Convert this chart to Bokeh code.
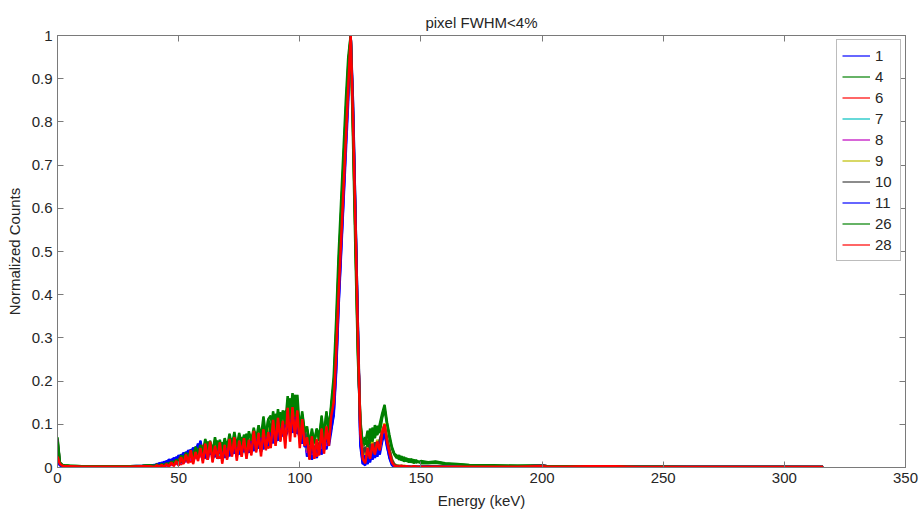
from bokeh.plotting import figure
from bokeh.models import LinearAxis, FixedTicker, CustomJSTickFormatter, Range1d
from bokeh.embed import file_html
from bokeh.resources import INLINE

# ---------------- data ----------------
energy_kev = [0, 1, 2, 3, 5, 10, 15, 20, 25, 30, 35, 38,
    40, 41, 42, 43, 44, 45, 46, 47, 48, 49,
    50, 51, 52, 53, 54, 55, 56, 57, 58, 59,
    60, 61, 62, 63, 64, 65, 66, 67, 68, 69,
    70, 71, 72, 73, 74, 75, 76, 77, 78, 79,
    80, 81, 82, 83, 84, 85, 86, 87, 88, 89,
    90, 91, 92, 93, 94, 95, 96, 97, 98, 99,
    100, 101, 102, 103, 104, 105, 106, 107, 108, 109,
    110, 111, 112, 113, 114, 115, 116, 117, 118, 119,
    120, 121, 122, 123, 124, 125, 126, 127, 128, 129,
    130, 131, 132, 133, 134, 135, 136, 137, 138, 139,
    140, 141, 142, 143, 144, 145, 146, 147, 148, 149,
    150,
    153, 156, 160, 165, 170, 180, 190, 200, 202, 210, 220, 230, 235, 240, 250, 260, 280, 300, 316]

pixel_1 = [0.02, 0.006, 0.004, 0.003, 0.003, 0.002, 0.002, 0.002, 0.002, 0.003, 0.004, 0.005,
    0.004, 0.008, 0.006, 0.011, 0.009, 0.015, 0.010, 0.019, 0.014, 0.024,
    0.018, 0.030, 0.022, 0.036, 0.026, 0.042, 0.030, 0.048, 0.036, 0.062,
    0.030, 0.050, 0.018, 0.046, 0.025, 0.052, 0.020, 0.044, 0.028, 0.050,
    0.022, 0.048, 0.030, 0.055, 0.026, 0.050, 0.032, 0.056, 0.028, 0.052,
    0.035, 0.066, 0.040, 0.072, 0.036, 0.062, 0.045, 0.074, 0.052, 0.090,
    0.055, 0.085, 0.065, 0.100, 0.070, 0.085, 0.120, 0.080, 0.112, 0.078,
    0.095, 0.055, 0.075, 0.025, 0.050, 0.018, 0.045, 0.022, 0.048, 0.030,
    0.070, 0.042, 0.080, 0.09, 0.12, 0.22, 0.37, 0.49, 0.61, 0.73,
    0.85, 1.0, 0.84, 0.58, 0.32, 0.06, 0.010, 0.005, 0.030, 0.012,
    0.040, 0.022, 0.048, 0.030, 0.060, 0.082, 0.048, 0.025, 0.008, 0.003,
    0.002, 0.003, 0.001, 0.002, 0.002, 0.001, 0.002, 0.001, 0.002, 0.001,
    0.001,
    0.002, 0.002, 0.001, 0.002, 0.001, 0.002, 0.002, 0.004, 0.003, 0.002, 0.002, 0.002, 0.001, 0.001, 0.001, 0.001, 0.001, 0.001, 0.001]

pixel_4 = [0.07, 0.010, 0.005, 0.004, 0.004, 0.003, 0.003, 0.003, 0.002, 0.003, 0.003, 0.004,
    0.005, 0.003, 0.007, 0.004, 0.008, 0.006, 0.011, 0.008, 0.015, 0.010,
    0.024, 0.014, 0.030, 0.020, 0.036, 0.028, 0.044, 0.032, 0.050, 0.036,
    0.050, 0.025, 0.060, 0.032, 0.052, 0.028, 0.062, 0.036, 0.058, 0.040,
    0.060, 0.038, 0.068, 0.042, 0.064, 0.045, 0.070, 0.055, 0.078, 0.042,
    0.060, 0.085, 0.050, 0.078, 0.066, 0.095, 0.070, 0.112, 0.120, 0.082,
    0.124, 0.092, 0.128, 0.104, 0.130, 0.132, 0.160, 0.130, 0.168, 0.128,
    0.100, 0.122, 0.085, 0.088, 0.058, 0.080, 0.062, 0.090, 0.072, 0.110,
    0.078, 0.125, 0.095, 0.14, 0.19, 0.31, 0.46, 0.58, 0.70, 0.82,
    0.93, 1.0, 0.79, 0.53, 0.27, 0.11, 0.05, 0.055, 0.085, 0.050,
    0.092, 0.068, 0.096, 0.080, 0.115, 0.135, 0.100, 0.068, 0.044, 0.030,
    0.022, 0.028, 0.016, 0.024, 0.014, 0.020, 0.012, 0.018, 0.011, 0.014,
    0.010,
    0.010, 0.011, 0.008, 0.007, 0.005, 0.004, 0.004, 0.005, 0.003, 0.003, 0.003, 0.002, 0.003, 0.002, 0.002, 0.001, 0.001, 0.001, 0.001]

pixel_6 = [0.03, 0.009, 0.005, 0.004, 0.003, 0.003, 0.002, 0.002, 0.002, 0.003, 0.003, 0.004,
    0.003, 0.001, 0.006, 0.002, 0.004, 0.009, 0.004, 0.012, 0.007, 0.015,
    0.020, 0.006, 0.025, 0.015, 0.030, 0.012, 0.040, 0.020, 0.045, 0.025,
    0.052, 0.020, 0.038, 0.055, 0.018, 0.035, 0.055, 0.020, 0.046, 0.030,
    0.058, 0.028, 0.048, 0.060, 0.033, 0.055, 0.025, 0.060, 0.038, 0.058,
    0.040, 0.072, 0.050, 0.078, 0.038, 0.066, 0.082, 0.044, 0.062, 0.104,
    0.060, 0.098, 0.080, 0.110, 0.058, 0.112, 0.138, 0.086, 0.120, 0.095,
    0.070, 0.100, 0.058, 0.062, 0.028, 0.045, 0.068, 0.025, 0.060, 0.082,
    0.040, 0.090, 0.065, 0.10, 0.16, 0.28, 0.42, 0.54, 0.66, 0.78,
    0.90, 1.0, 0.78, 0.53, 0.28, 0.10, 0.03, 0.040, 0.015, 0.052,
    0.025, 0.058, 0.035, 0.062, 0.085, 0.098, 0.066, 0.040, 0.015, 0.005,
    0.002, 0.004, 0.003, 0.002, 0.003, 0.001, 0.002, 0.003, 0.002, 0.002,
    0.001,
    0.003, 0.002, 0.002, 0.002, 0.002, 0.002, 0.003, 0.002, 0.003, 0.002, 0.002, 0.003, 0.003, 0.002, 0.002, 0.001, 0.001, 0.001, 0.001]

pixel_7 = [0.025, 0.007, 0.004, 0.003, 0.003, 0.002, 0.002, 0.002, 0.002, 0.002, 0.003, 0.003,
    0.002, 0.004, 0.003, 0.005, 0.004, 0.005, 0.008, 0.006, 0.011, 0.009,
    0.016, 0.010, 0.022, 0.014, 0.026, 0.020, 0.034, 0.024, 0.040, 0.028,
    0.044, 0.026, 0.048, 0.030, 0.050, 0.032, 0.052, 0.028, 0.050, 0.034,
    0.054, 0.030, 0.056, 0.036, 0.058, 0.038, 0.060, 0.035, 0.058, 0.042,
    0.068, 0.042, 0.072, 0.048, 0.076, 0.050, 0.080, 0.056, 0.094, 0.060,
    0.100, 0.070, 0.104, 0.078, 0.112, 0.096, 0.128, 0.100, 0.132, 0.092,
    0.080, 0.104, 0.062, 0.068, 0.032, 0.060, 0.036, 0.064, 0.042, 0.074,
    0.048, 0.082, 0.060, 0.11, 0.14, 0.25, 0.40, 0.52, 0.64, 0.76,
    0.88, 1.0, 0.80, 0.55, 0.29, 0.08, 0.028, 0.022, 0.050, 0.030,
    0.056, 0.036, 0.060, 0.042, 0.076, 0.094, 0.064, 0.038, 0.016, 0.006,
    0.004, 0.003, 0.004, 0.002, 0.003, 0.002, 0.002, 0.002, 0.001, 0.002,
    0.002,
    0.002, 0.002, 0.002, 0.002, 0.001, 0.002, 0.002, 0.003, 0.002, 0.002, 0.002, 0.002, 0.002, 0.001, 0.001, 0.001, 0.001, 0.001, 0.001]

pixel_8 = [0.02, 0.006, 0.004, 0.003, 0.002, 0.002, 0.002, 0.002, 0.002, 0.002, 0.003, 0.003,
    0.003, 0.002, 0.004, 0.003, 0.005, 0.004, 0.007, 0.006, 0.010, 0.008,
    0.013, 0.010, 0.018, 0.013, 0.022, 0.017, 0.030, 0.021, 0.036, 0.025,
    0.030, 0.046, 0.022, 0.050, 0.028, 0.052, 0.026, 0.048, 0.030, 0.054,
    0.034, 0.056, 0.030, 0.058, 0.036, 0.060, 0.034, 0.062, 0.040, 0.064,
    0.044, 0.070, 0.046, 0.076, 0.052, 0.080, 0.054, 0.086, 0.058, 0.096,
    0.064, 0.102, 0.074, 0.108, 0.080, 0.126, 0.094, 0.130, 0.098, 0.120,
    0.098, 0.070, 0.090, 0.034, 0.062, 0.030, 0.066, 0.038, 0.070, 0.044,
    0.078, 0.050, 0.084, 0.105, 0.13, 0.24, 0.39, 0.51, 0.63, 0.75,
    0.87, 1.0, 0.81, 0.56, 0.30, 0.07, 0.022, 0.040, 0.018, 0.048,
    0.026, 0.054, 0.032, 0.058, 0.072, 0.090, 0.060, 0.034, 0.014, 0.005,
    0.003, 0.002, 0.003, 0.002, 0.002, 0.003, 0.001, 0.002, 0.002, 0.001,
    0.001,
    0.002, 0.002, 0.001, 0.002, 0.002, 0.001, 0.002, 0.005, 0.003, 0.002, 0.002, 0.003, 0.002, 0.001, 0.001, 0.001, 0.001, 0.001, 0.001]

pixel_9 = [0.03, 0.008, 0.005, 0.004, 0.003, 0.003, 0.002, 0.002, 0.002, 0.003, 0.003, 0.004,
    0.003, 0.005, 0.004, 0.006, 0.005, 0.008, 0.006, 0.011, 0.008, 0.014,
    0.012, 0.020, 0.015, 0.026, 0.019, 0.032, 0.022, 0.040, 0.028, 0.044,
    0.028, 0.050, 0.030, 0.052, 0.034, 0.054, 0.030, 0.056, 0.036, 0.052,
    0.032, 0.058, 0.038, 0.060, 0.035, 0.062, 0.040, 0.064, 0.044, 0.066,
    0.048, 0.074, 0.052, 0.080, 0.056, 0.084, 0.060, 0.090, 0.066, 0.100,
    0.072, 0.106, 0.082, 0.114, 0.088, 0.132, 0.100, 0.136, 0.104, 0.126,
    0.102, 0.076, 0.096, 0.040, 0.068, 0.036, 0.070, 0.044, 0.076, 0.050,
    0.084, 0.058, 0.092, 0.12, 0.16, 0.28, 0.43, 0.55, 0.67, 0.79,
    0.90, 1.0, 0.78, 0.53, 0.28, 0.09, 0.035, 0.030, 0.056, 0.036,
    0.060, 0.042, 0.064, 0.048, 0.082, 0.102, 0.070, 0.044, 0.020, 0.008,
    0.005, 0.004, 0.003, 0.004, 0.003, 0.002, 0.003, 0.002, 0.002, 0.002,
    0.001,
    0.003, 0.002, 0.002, 0.002, 0.002, 0.002, 0.002, 0.003, 0.002, 0.002, 0.002, 0.002, 0.002, 0.001, 0.001, 0.001, 0.001, 0.001, 0.001]

pixel_10 = [0.065, 0.010, 0.005, 0.004, 0.003, 0.003, 0.002, 0.002, 0.002, 0.002, 0.003, 0.004,
    0.003, 0.004, 0.005, 0.004, 0.006, 0.007, 0.006, 0.010, 0.009, 0.012,
    0.015, 0.012, 0.020, 0.016, 0.024, 0.028, 0.020, 0.034, 0.026, 0.040,
    0.026, 0.046, 0.032, 0.050, 0.026, 0.048, 0.036, 0.054, 0.028, 0.050,
    0.038, 0.056, 0.032, 0.060, 0.040, 0.034, 0.062, 0.042, 0.064, 0.038,
    0.072, 0.046, 0.078, 0.050, 0.070, 0.058, 0.088, 0.062, 0.098, 0.068,
    0.110, 0.074, 0.104, 0.086, 0.116, 0.092, 0.134, 0.098, 0.126, 0.088,
    0.106, 0.066, 0.088, 0.060, 0.034, 0.064, 0.032, 0.060, 0.046, 0.080,
    0.052, 0.086, 0.066, 0.11, 0.14, 0.25, 0.41, 0.53, 0.65, 0.77,
    0.89, 1.0, 0.83, 0.58, 0.32, 0.09, 0.030, 0.048, 0.024, 0.054,
    0.032, 0.058, 0.040, 0.064, 0.080, 0.096, 0.068, 0.042, 0.018, 0.007,
    0.004, 0.003, 0.002, 0.003, 0.002, 0.002, 0.001, 0.002, 0.002, 0.001,
    0.002,
    0.003, 0.003, 0.002, 0.002, 0.002, 0.002, 0.002, 0.004, 0.003, 0.002, 0.002, 0.002, 0.002, 0.002, 0.002, 0.002, 0.002, 0.002, 0.001]

pixel_11 = [0.015, 0.005, 0.003, 0.003, 0.002, 0.002, 0.002, 0.002, 0.002, 0.002, 0.003, 0.004,
    0.006, 0.005, 0.010, 0.008, 0.013, 0.012, 0.018, 0.015, 0.022, 0.019,
    0.028, 0.023, 0.034, 0.029, 0.040, 0.032, 0.046, 0.038, 0.055, 0.040,
    0.046, 0.022, 0.052, 0.030, 0.048, 0.024, 0.050, 0.032, 0.054, 0.022,
    0.050, 0.026, 0.052, 0.032, 0.058, 0.030, 0.054, 0.036, 0.060, 0.034,
    0.062, 0.038, 0.068, 0.044, 0.074, 0.042, 0.070, 0.050, 0.088, 0.056,
    0.092, 0.062, 0.098, 0.072, 0.106, 0.088, 0.118, 0.086, 0.124, 0.090,
    0.068, 0.094, 0.048, 0.052, 0.020, 0.048, 0.028, 0.055, 0.032, 0.068,
    0.040, 0.075, 0.050, 0.085, 0.13, 0.23, 0.38, 0.50, 0.62, 0.75,
    0.87, 1.0, 0.81, 0.57, 0.31, 0.05, 0.008, 0.028, 0.008, 0.038,
    0.018, 0.045, 0.025, 0.052, 0.068, 0.078, 0.052, 0.022, 0.006, 0.002,
    0.003, 0.002, 0.002, 0.001, 0.002, 0.002, 0.001, 0.002, 0.001, 0.001,
    0.002,
    0.002, 0.001, 0.002, 0.001, 0.002, 0.001, 0.002, 0.003, 0.002, 0.001, 0.002, 0.001, 0.001, 0.001, 0.001, 0.001, 0.001, 0.001, 0.001]

pixel_26 = [0.06, 0.012, 0.006, 0.005, 0.004, 0.003, 0.003, 0.003, 0.003, 0.003, 0.004, 0.005,
    0.004, 0.007, 0.003, 0.008, 0.005, 0.010, 0.006, 0.014, 0.009, 0.018,
    0.012, 0.028, 0.018, 0.034, 0.022, 0.040, 0.025, 0.048, 0.030, 0.052,
    0.036, 0.066, 0.040, 0.062, 0.035, 0.070, 0.042, 0.064, 0.038, 0.068,
    0.046, 0.078, 0.050, 0.082, 0.048, 0.080, 0.052, 0.076, 0.047, 0.084,
    0.062, 0.092, 0.066, 0.098, 0.070, 0.118, 0.072, 0.112, 0.082, 0.130,
    0.088, 0.135, 0.092, 0.132, 0.100, 0.165, 0.112, 0.172, 0.118, 0.168,
    0.085, 0.130, 0.082, 0.095, 0.052, 0.090, 0.056, 0.088, 0.062, 0.120,
    0.070, 0.130, 0.078, 0.15, 0.21, 0.34, 0.49, 0.61, 0.73, 0.85,
    0.95, 1.0, 0.75, 0.49, 0.25, 0.10, 0.055, 0.070, 0.048, 0.090,
    0.060, 0.098, 0.075, 0.100, 0.125, 0.145, 0.105, 0.075, 0.048, 0.032,
    0.028, 0.018, 0.026, 0.014, 0.022, 0.012, 0.020, 0.010, 0.017, 0.012,
    0.015,
    0.012, 0.014, 0.010, 0.008, 0.006, 0.005, 0.004, 0.004, 0.003, 0.003, 0.003, 0.003, 0.002, 0.002, 0.002, 0.001, 0.001, 0.001, 0.001]

pixel_28 = [0.025, 0.008, 0.004, 0.003, 0.003, 0.002, 0.002, 0.002, 0.002, 0.002, 0.003, 0.003,
    0.001, 0.005, 0.002, 0.006, 0.001, 0.008, 0.002, 0.012, 0.003, 0.015,
    0.004, 0.024, 0.008, 0.030, 0.010, 0.040, 0.008, 0.036, 0.015, 0.045,
    0.010, 0.055, 0.018, 0.060, 0.012, 0.050, 0.020, 0.058, 0.009, 0.052,
    0.018, 0.066, 0.025, 0.070, 0.016, 0.062, 0.030, 0.068, 0.020, 0.064,
    0.028, 0.085, 0.035, 0.080, 0.026, 0.088, 0.040, 0.082, 0.045, 0.110,
    0.050, 0.115, 0.060, 0.108, 0.044, 0.138, 0.060, 0.140, 0.070, 0.132,
    0.045, 0.112, 0.050, 0.070, 0.018, 0.072, 0.020, 0.065, 0.028, 0.090,
    0.032, 0.095, 0.050, 0.12, 0.15, 0.26, 0.40, 0.52, 0.64, 0.76,
    0.88, 1.0, 0.80, 0.56, 0.30, 0.08, 0.02, 0.010, 0.045, 0.020,
    0.055, 0.030, 0.060, 0.040, 0.080, 0.100, 0.060, 0.035, 0.012, 0.004,
    0.003, 0.002, 0.004, 0.002, 0.003, 0.002, 0.001, 0.003, 0.002, 0.001,
    0.002,
    0.002, 0.002, 0.002, 0.002, 0.002, 0.002, 0.002, 0.003, 0.002, 0.002, 0.003, 0.003, 0.002, 0.001, 0.001, 0.001, 0.001, 0.001, 0.001]

pixel_labels = ["1", "4", "6", "7", "8", "9", "10", "11", "26", "28"]
pixel_series = [pixel_1, pixel_4, pixel_6, pixel_7, pixel_8, pixel_9,
                pixel_10, pixel_11, pixel_26, pixel_28]
pixel_colors = ["#0000ff", "#008000", "#ff0000", "#00bfbf", "#bf00bf", "#bfbf00",
                "#404040", "#0000ff", "#008000", "#ff0000"]

x_ticks = [0, 50, 100, 150, 200, 250, 300, 350]
y_ticks = [0, 0.1, 0.2, 0.3, 0.4, 0.5, 0.6, 0.7, 0.8, 0.9, 1]

for lbl, s in zip(pixel_labels, pixel_series):
    assert len(s) == len(energy_kev), (lbl, len(s), len(energy_kev))

# ---------------- figure ----------------
FONT = "Liberation Sans"
TXT = "#262626"
AX = "#7a7a7a"

p = figure(width=920, height=511, output_backend="svg", toolbar_location=None,
           x_range=Range1d(0, 350), y_range=Range1d(0, 1),
           min_border_left=57, min_border_right=15, min_border_top=35, min_border_bottom=43)
p.background_fill_color = "white"
p.border_fill_color = "white"
p.grid.visible = False
p.outline_line_color = AX
p.outline_line_width = 1

p.title.text = "pixel FWHM<4%"
p.title.align = "center"
p.title.text_font = FONT
p.title.text_font_size = "15px"
p.title.text_font_style = "normal"
p.title.text_color = TXT
p.title.offset = 2

fmt = CustomJSTickFormatter(code="return Number(tick.toFixed(2)).toString();")

for ax in p.xaxis:
    ax.ticker = FixedTicker(ticks=x_ticks)
    ax.axis_label = "Energy (keV)"
for ax in p.yaxis:
    ax.ticker = FixedTicker(ticks=y_ticks)
    ax.formatter = fmt
    ax.axis_label = "Normalized Counts"

top_axis = LinearAxis(ticker=FixedTicker(ticks=x_ticks))
right_axis = LinearAxis(ticker=FixedTicker(ticks=y_ticks))
p.add_layout(top_axis, "above")
p.add_layout(right_axis, "right")

for ax in p.xaxis + p.yaxis:
    ax.axis_line_color = AX
    ax.major_tick_line_color = AX
    ax.major_tick_in = 6
    ax.major_tick_out = 0
    ax.minor_tick_line_color = None
    ax.major_label_text_font = FONT
    ax.major_label_text_font_size = "15px"
    ax.major_label_text_color = TXT
    ax.axis_label_text_font = FONT
    ax.axis_label_text_font_size = "15px"
    ax.axis_label_text_font_style = "normal"
    ax.axis_label_text_color = TXT
    ax.major_label_standoff = 5
    ax.axis_label_standoff = 6

for ax in (top_axis, right_axis):
    ax.major_label_text_font_size = "0px"
    ax.major_label_text_color = None
    ax.major_label_standoff = 0
    ax.axis_label = None

# thick spectrum line, then a thin copy of the same data that carries the legend key
for label, ys, col in zip(pixel_labels, pixel_series, pixel_colors):
    p.line(energy_kev, ys, line_color=col, line_width=2.5)
    p.line(energy_kev, ys, line_color=col, line_width=1.2, legend_label=label)

lg = p.legend[0]
lg.location = "top_right"
lg.margin = 4
lg.padding = 5
lg.spacing = 0
lg.glyph_width = 28
lg.glyph_height = 21
lg.label_height = 21
lg.label_standoff = 5
lg.label_text_font = FONT
lg.label_text_font_size = "15px"
lg.label_text_color = TXT
lg.border_line_color = AX
lg.background_fill_color = "white"
lg.background_fill_alpha = 1.0

open("out.html", "w").write(file_html(p, INLINE))
